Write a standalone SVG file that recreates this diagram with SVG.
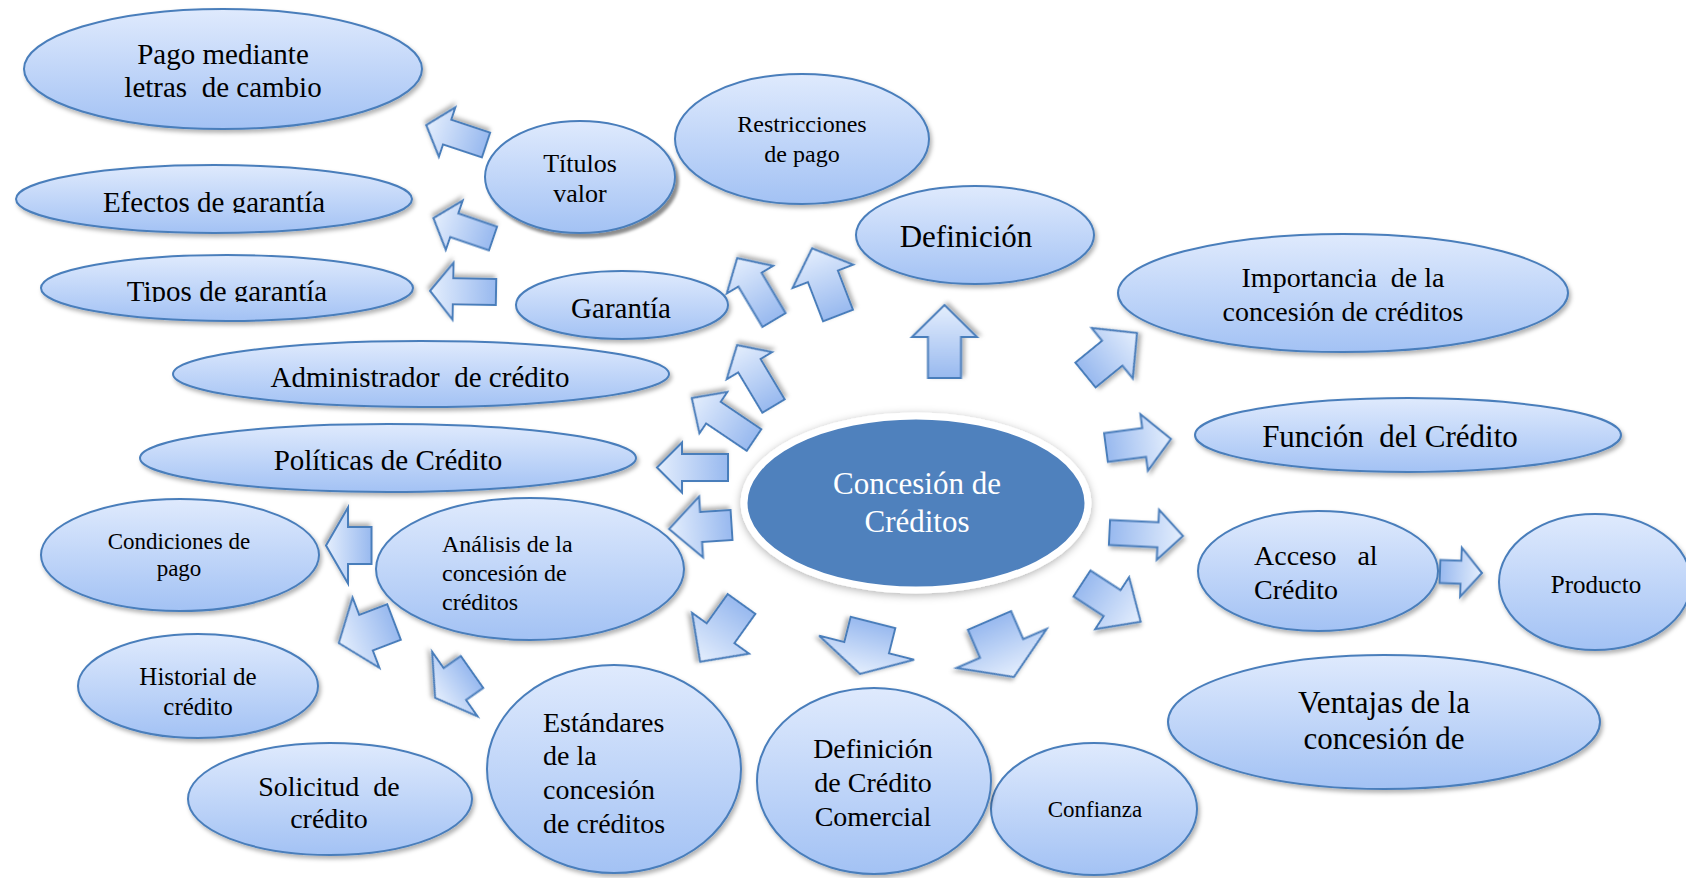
<svg xmlns="http://www.w3.org/2000/svg" width="1686" height="878" viewBox="0 0 1686 878">
<defs>
<linearGradient id="eg" x1="0" y1="0" x2="0" y2="1">
<stop offset="0" stop-color="#dfeafd"/>
<stop offset="1" stop-color="#a3c2f4"/>
</linearGradient>
<linearGradient id="ag" x1="1" y1="0" x2="0" y2="0">
<stop offset="0" stop-color="#e4eefd"/>
<stop offset="1" stop-color="#98b9ef"/>
</linearGradient>
<filter id="sh" x="-10%" y="-10%" width="125%" height="130%">
<feDropShadow dx="2" dy="3" stdDeviation="2" flood-color="#000" flood-opacity="0.3"/>
</filter>
<filter id="sh2" x="-10%" y="-10%" width="125%" height="130%">
<feDropShadow dx="3" dy="4" stdDeviation="1.5" flood-color="#000" flood-opacity="0.45"/>
</filter>
<filter id="glow" x="-10%" y="-15%" width="120%" height="130%">
<feDropShadow dx="0" dy="2" stdDeviation="4" flood-color="#000" flood-opacity="0.3"/>
</filter>
<clipPath id="cEf"><rect x="0" y="150" width="460" height="63"/></clipPath>
<clipPath id="cTi"><rect x="0" y="250" width="460" height="52"/></clipPath>
<clipPath id="cHi"><rect x="0" y="620" width="400" height="95"/></clipPath>
<clipPath id="cAn"><rect x="380" y="500" width="300" height="111"/></clipPath>
</defs>
<style>
.n{fill:url(#eg);stroke:#4a7ebb;stroke-width:2;filter:url(#sh)}
.a{fill:url(#ag);stroke:#4a7ebb;stroke-width:2;stroke-linejoin:miter;filter:url(#sh)}
text{font-family:"Liberation Serif","DejaVu Serif",serif;fill:#000;white-space:pre}
.m{text-anchor:middle}
</style>
<rect width="1686" height="878" fill="#fff"/>
<g font-family="'Liberation Serif', 'DejaVu Serif', serif">
<g id="node-pago">
<ellipse class="n" cx="223" cy="69" rx="199" ry="60"/>
<text class="m" x="223" y="64" font-size="29">Pago mediante</text>
<text class="m" x="223" y="97" font-size="29" xml:space="preserve">letras  de cambio</text>
</g>
<g id="node-titulos">
<ellipse class="n" cx="580" cy="177" rx="95" ry="56" style="filter:url(#sh2)"/>
<text class="m" x="580" y="172" font-size="26">Títulos</text>
<text class="m" x="580" y="202" font-size="26">valor</text>
</g>
<g id="node-restricciones">
<ellipse class="n" cx="802" cy="139" rx="127" ry="65"/>
<text class="m" x="802" y="132" font-size="24">Restricciones</text>
<text class="m" x="802" y="162" font-size="24">de pago</text>
</g>
<g id="node-definicion">
<ellipse class="n" cx="975" cy="235" rx="119" ry="49"/>
<text class="m" x="966" y="247" font-size="31">Definición</text>
</g>
<g id="node-importancia">
<ellipse class="n" cx="1343" cy="293" rx="225" ry="59"/>
<text class="m" x="1343" y="287" font-size="28" xml:space="preserve">Importancia  de la</text>
<text class="m" x="1343" y="321" font-size="28">concesión de créditos</text>
</g>
<g id="node-funcion">
<ellipse class="n" cx="1408" cy="435" rx="213" ry="37"/>
<text class="m" x="1390" y="447" font-size="31" xml:space="preserve">Función  del Crédito</text>
</g>
<g id="node-acceso">
<ellipse class="n" cx="1318" cy="571" rx="120" ry="60"/>
<text x="1254" y="565" font-size="28" xml:space="preserve">Acceso   al</text>
<text x="1254" y="599" font-size="28">Crédito</text>
</g>
<g id="node-producto">
<ellipse class="n" cx="1595" cy="582" rx="96" ry="68"/>
<text class="m" x="1596" y="593" font-size="25">Producto</text>
</g>
<g id="node-ventajas">
<ellipse class="n" cx="1384" cy="722" rx="216" ry="67"/>
<text class="m" x="1384" y="713" font-size="31">Ventajas de la</text>
<text class="m" x="1384" y="749" font-size="31">concesión de</text>
</g>
<g id="node-confianza">
<ellipse class="n" cx="1094" cy="809" rx="103" ry="66"/>
<text class="m" x="1095" y="817" font-size="23">Confianza</text>
</g>
<g id="node-definicion-comercial">
<ellipse class="n" cx="874" cy="781" rx="117" ry="93"/>
<text class="m" x="873" y="758" font-size="28">Definición</text>
<text class="m" x="873" y="792" font-size="28">de Crédito</text>
<text class="m" x="873" y="826" font-size="28">Comercial</text>
</g>
<g id="node-estandares">
<ellipse class="n" cx="614" cy="769" rx="127" ry="104"/>
<text x="543" y="732" font-size="28">Estándares</text>
<text x="543" y="765" font-size="28">de la</text>
<text x="543" y="799" font-size="28">concesión</text>
<text x="543" y="833" font-size="28">de créditos</text>
</g>
<g id="node-solicitud">
<ellipse class="n" cx="330" cy="799" rx="142" ry="56"/>
<text class="m" x="329" y="796" font-size="28" xml:space="preserve">Solicitud  de</text>
<text class="m" x="329" y="828" font-size="28">crédito</text>
</g>
<g id="node-historial">
<ellipse class="n" cx="198" cy="686" rx="120" ry="52"/>
<g clip-path="url(#cHi)">
<text class="m" x="198" y="685" font-size="25">Historial de</text>
<text class="m" x="198" y="715" font-size="25">crédito</text>
</g>
</g>
<g id="node-condiciones">
<ellipse class="n" cx="180" cy="555" rx="139" ry="56"/>
<text class="m" x="179" y="549" font-size="23">Condiciones de</text>
<text class="m" x="179" y="576" font-size="23">pago</text>
</g>
<g id="node-analisis">
<ellipse class="n" cx="530" cy="569" rx="154" ry="71"/>
<g clip-path="url(#cAn)">
<text x="442" y="552" font-size="24">Análisis de la</text>
<text x="442" y="581" font-size="24">concesión de</text>
<text x="442" y="610" font-size="24">créditos</text>
</g>
</g>
<g id="node-politicas">
<ellipse class="n" cx="388" cy="458" rx="248" ry="34"/>
<text class="m" x="388" y="470" font-size="29">Políticas de Crédito</text>
</g>
<g id="node-administrador">
<ellipse class="n" cx="421" cy="374" rx="248" ry="33"/>
<text class="m" x="420" y="387" font-size="29" xml:space="preserve">Administrador  de crédito</text>
</g>
<g id="node-garantia">
<ellipse class="n" cx="622" cy="305" rx="106" ry="34"/>
<text class="m" x="621" y="318" font-size="29">Garantía</text>
</g>
<g id="node-tipos">
<ellipse class="n" cx="227" cy="288" rx="186" ry="33"/>
<text class="m" x="227" y="301" font-size="29" clip-path="url(#cTi)">Tipos de garantía</text>
</g>
<g id="node-efectos">
<ellipse class="n" cx="214" cy="199" rx="198" ry="34"/>
<text class="m" x="214" y="212" font-size="29" clip-path="url(#cEf)">Efectos de garantía</text>
</g>
<g id="node-concesion">
<ellipse cx="916" cy="503" rx="172" ry="87" fill="#4f81bd" stroke="#fff" stroke-width="7" filter="url(#glow)"/>
<text class="m" x="917" y="494" font-size="31" style="fill:#fff">Concesión de</text>
<text class="m" x="917" y="532" font-size="31" style="fill:#fff">Créditos</text>
</g>
</g>
<g id="connectors">
<path class="a" d="M0,-13H41V-26L63,0L41,26V13H0Z" transform="translate(486,145) rotate(198.4)"/>
<path class="a" d="M0,-12.5H41V-26L63,0L41,26V12.5H0Z" transform="translate(493,238.5) rotate(198.9)"/>
<path class="a" d="M0,-13H43V-28.5L66,0L43,28.5V13H0Z" transform="translate(496,292) rotate(181)"/>
<path class="a" d="M0,-13.5H47V-27L72,0L47,27V13.5H0Z" transform="translate(774,320) rotate(239.2)"/>
<path class="a" d="M0,-16H42V-32.5L72,0L42,32.5V16H0Z" transform="translate(838,315.5) rotate(248.9)"/>
<path class="a" d="M0,-16.5H41V-32.5L73,0L41,32.5V16.5H0Z" transform="translate(944.5,378) rotate(270)"/>
<path class="a" d="M0,-16H34.5V-32.5L66.5,0L34.5,32.5V16H0Z" transform="translate(1085.5,375) rotate(-39.2)"/>
<path class="a" d="M0,-14.5H38.5V-28.5L65.5,0L38.5,28.5V14.5H0Z" transform="translate(1106,447.5) rotate(-7.5)"/>
<path class="a" d="M0,-12.5H48.5V-25L73.5,0L48.5,25V12.5H0Z" transform="translate(1109.5,532.5) rotate(2.7)"/>
<path class="a" d="M0,-15.5H36V-31L70,0L36,31V15.5H0Z" transform="translate(1082,583.5) rotate(33.1)"/>
<path class="a" d="M0,-11.5H21V-24.5L42,0L21,24.5V11.5H0Z" transform="translate(1440,571.5) rotate(2)"/>
<path class="a" d="M0,-23.5H30.5V-49L61.5,0L30.5,49V23.5H0Z" transform="translate(989.5,620.5) rotate(66.6)"/>
<path class="a" d="M0,-23H26V-49L53,0L26,49V23H0Z" transform="translate(873,622.5) rotate(104.2)"/>
<path class="a" d="M0,-17H36V-35L71,0L36,35V17H0Z" transform="translate(741.5,604) rotate(125.6)"/>
<path class="a" d="M0,-15H30.5V-30.5L62.5,0L30.5,30.5V15H0Z" transform="translate(731.5,525) rotate(176.3)"/>
<path class="a" d="M0,-13.5H46V-25L71,0L46,25V13.5H0Z" transform="translate(728,467.5) rotate(180)"/>
<path class="a" d="M0,-13H49V-25L75,0L49,25V13H0Z" transform="translate(754,440) rotate(214)"/>
<path class="a" d="M0,-13H47V-26.5L71,0L47,26.5V13H0Z" transform="translate(773.5,406) rotate(239.1)"/>
<path class="a" d="M0,-18.5H23.5V-38L45.5,0L23.5,38V18.5H0Z" transform="translate(371.5,545.5) rotate(180)"/>
<path class="a" d="M0,-19H30V-37.5L59,0L30,37.5V19H0Z" transform="translate(394,622) rotate(159.1)"/>
<path class="a" d="M0,-19.5H21V-39.5L45,0L21,39.5V19.5H0Z" transform="translate(472,672) rotate(144.9)"/>
</g>
</svg>
